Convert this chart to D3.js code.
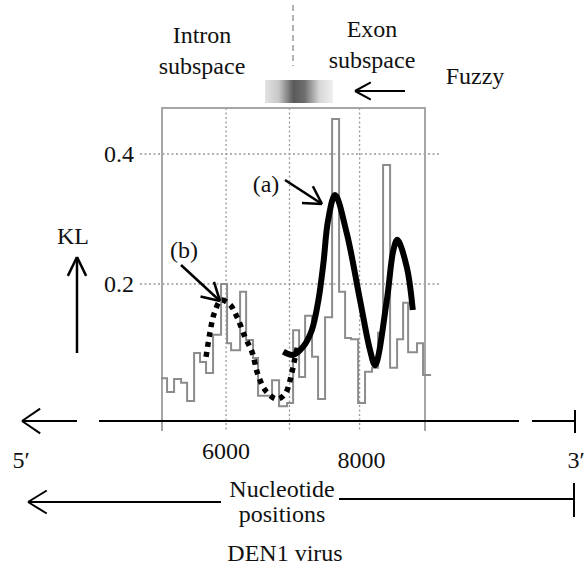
<!DOCTYPE html>
<html>
<head>
<meta charset="utf-8">
<script src="https://cdn.jsdelivr.net/npm/d3@7"></script>
<style>
  body { margin: 0; background: #fff; }
  text { font-family: "Liberation Serif", "Times New Roman", serif; font-size: 24px; fill: #111; }
</style>
</head>
<body>
<div id="chart"></div>
<script>
// window KL values (step line), bin start positions in nucleotides
var binEdges = [5026, 5116, 5221, 5326, 5416, 5521, 5610, 5700, 5805, 5925,
  6015, 6075, 6210, 6300, 6404, 6479, 6689, 6794, 6914, 7004,
  7094, 7184, 7288, 7378, 7483, 7588, 7693, 7783, 7873, 7978,
  8082, 8187, 8277, 8352, 8457, 8562, 8652, 8727, 8861, 8951, 9071];
var binKL = [0.055, 0.034, 0.054, 0.048, 0.020, 0.094, 0.080, 0.063, 0.122, 0.200,
  0.109, 0.098, 0.188, 0.114, 0.086, 0.028, 0.052, 0.012, 0.017, 0.129,
  0.057, 0.151, 0.088, 0.023, 0.149, 0.454, 0.188, 0.117, 0.115, 0.017,
  0.065, 0.071, 0.125, 0.383, 0.071, 0.115, 0.171, 0.095, 0.109, 0.060];

// fitted curve (a), solid
var curveAPos = [6858, 7008, 7158, 7284, 7383, 7458, 7528, 7633, 7808, 8007, 8157, 8232, 8408, 8506, 8566, 8707, 8797];
var curveAKL = [0.096, 0.091, 0.104, 0.129, 0.175, 0.232, 0.298, 0.337, 0.278, 0.175, 0.098, 0.075, 0.175, 0.252, 0.268, 0.226, 0.160];

// fitted curve (b), dotted
var curveBPos = [5700, 5760, 5820, 5925, 6060, 6165, 6285, 6390, 6479, 6599, 6764, 6884, 6959, 7019, 7079];
var curveBKL = [0.088, 0.126, 0.154, 0.175, 0.168, 0.149, 0.118, 0.095, 0.060, 0.035, 0.023, 0.031, 0.052, 0.080, 0.108];

var gridX = [6000, 6950, 8000];
var gridY = [0.2, 0.4];
var xTickLabels = ["6000", "8000"];
var yTickLabels = ["0.2", "0.4"];

var W = 587, H = 571;
var svg = d3.select("#chart").append("svg").attr("width", W).attr("height", H);

var x = d3.scaleLinear().domain([5040, 8980]).range([162, 425]);
var y = d3.scaleLinear().domain([0, 0.4]).range([414, 154]);

function arrow(x1, y1, x2, y2, len, ang, sw) {
  // shaft from (x1,y1), open head at (x2,y2)
  var a = Math.atan2(y1 - y2, x1 - x2);
  var g = svg.append("g").attr("stroke", "#000").attr("stroke-width", sw).attr("fill", "none");
  g.append("line").attr("x1", x1).attr("y1", y1).attr("x2", x2).attr("y2", y2);
  [-ang, ang].forEach(function (d) {
    g.append("line").attr("x1", x2).attr("y1", y2)
      .attr("x2", x2 + len * Math.cos(a + d)).attr("y2", y2 + len * Math.sin(a + d));
  });
}

// gridlines
svg.selectAll(".gx").data(gridX).enter().append("line")
  .attr("x1", function (d) { return x(d); }).attr("x2", function (d) { return x(d); })
  .attr("y1", 108).attr("y2", 431)
  .attr("stroke", "#999").attr("stroke-width", 1.3).attr("stroke-dasharray", "2,2.5");
svg.selectAll(".gy").data(gridY).enter().append("line")
  .attr("x1", 140).attr("x2", 441)
  .attr("y1", function (d) { return y(d); }).attr("y2", function (d) { return y(d); })
  .attr("stroke", "#999").attr("stroke-width", 1.3).attr("stroke-dasharray", "2,2.5");

// plot frame
var xd = x.domain();
svg.append("path")
  .attr("d", "M" + x(xd[0]) + ",431V108H" + x(xd[1]) + "V431")
  .attr("fill", "none").attr("stroke", "#a6a6a6").attr("stroke-width", 2);

// step line
var steps = binKL.map(function (v, i) { return [binEdges[i], v]; });
steps.push([binEdges[binEdges.length - 1], binKL[binKL.length - 1]]);
svg.append("path").datum(steps)
  .attr("d", d3.line().x(function (d) { return x(d[0]); }).y(function (d) { return y(d[1]); }).curve(d3.curveStepAfter))
  .attr("fill", "none").attr("stroke", "#8c8c8c").attr("stroke-width", 2);

// fitted curves
var smooth = d3.line().x(function (d) { return x(d[0]); }).y(function (d) { return y(d[1]); }).curve(d3.curveCatmullRom);
svg.append("path").datum(curveBPos.map(function (p, i) { return [p, curveBKL[i]]; }))
  .attr("d", smooth).attr("fill", "none").attr("stroke", "#000")
  .attr("stroke-width", 5.5).attr("stroke-dasharray", "5,5");
svg.append("path").datum(curveAPos.map(function (p, i) { return [p, curveAKL[i]]; }))
  .attr("d", smooth).attr("fill", "none").attr("stroke", "#000").attr("stroke-width", 6);

// y tick labels
svg.selectAll(".yl").data(gridY).enter().append("text")
  .attr("x", 134).attr("y", function (d) { return y(d) + 8; })
  .attr("text-anchor", "end").text(function (d, i) { return yTickLabels[i]; });

// horizontal position axis
svg.append("line").attr("x1", 99).attr("x2", 519).attr("y1", 421).attr("y2", 421)
  .attr("stroke", "#000").attr("stroke-width", 2);
svg.append("line").attr("x1", 532).attr("x2", 575).attr("y1", 421).attr("y2", 421)
  .attr("stroke", "#000").attr("stroke-width", 2);
svg.append("line").attr("x1", 575).attr("x2", 575).attr("y1", 410).attr("y2", 433)
  .attr("stroke", "#000").attr("stroke-width", 2);
arrow(77, 421, 22, 421, 22, 0.6, 2);

svg.append("text").attr("x", x(6000)).attr("y", 459).attr("text-anchor", "middle").text(xTickLabels[0]);
svg.append("text").attr("x", x(8000) + 2).attr("y", 468).attr("text-anchor", "middle").text(xTickLabels[1]);
svg.append("text").attr("x", 21).attr("y", 468).attr("text-anchor", "middle").text("5\u2032");
svg.append("text").attr("x", 576).attr("y", 468).attr("text-anchor", "middle").text("3\u2032");

// nucleotide positions arrow
arrow(221, 502, 28, 502, 22, 0.55, 2);
svg.append("line").attr("x1", 339).attr("x2", 574).attr("y1", 499).attr("y2", 499)
  .attr("stroke", "#000").attr("stroke-width", 2);
svg.append("line").attr("x1", 574).attr("x2", 574).attr("y1", 483).attr("y2", 517)
  .attr("stroke", "#000").attr("stroke-width", 2);
svg.append("text").attr("x", 282).attr("y", 497).attr("text-anchor", "middle").text("Nucleotide");
svg.append("text").attr("x", 282).attr("y", 522).attr("text-anchor", "middle").text("positions");
svg.append("text").attr("x", 285).attr("y", 561).attr("text-anchor", "middle").text("DEN1 virus");

// KL axis arrow
arrow(77, 353, 77, 257, 21, 0.45, 2.5);
svg.append("text").attr("x", 73).attr("y", 244).attr("text-anchor", "middle").text("KL");

// annotations
arrow(285, 180, 322, 204, 20, 0.52, 2.5);
svg.append("text").attr("x", 266).attr("y", 192).attr("text-anchor", "middle").text("(a)");
arrow(181, 265, 220, 301, 20, 0.52, 2.5);
svg.append("text").attr("x", 184).attr("y", 258).attr("text-anchor", "middle").text("(b)");

// subspace header
svg.append("line").attr("x1", 293).attr("x2", 293).attr("y1", 5).attr("y2", 66)
  .attr("stroke", "#999").attr("stroke-width", 1.5).attr("stroke-dasharray", "6,4");
svg.append("text").attr("x", 202).attr("y", 43).attr("text-anchor", "middle").text("Intron");
svg.append("text").attr("x", 202).attr("y", 74).attr("text-anchor", "middle").text("subspace");
svg.append("text").attr("x", 372).attr("y", 37).attr("text-anchor", "middle").text("Exon");
svg.append("text").attr("x", 372).attr("y", 68).attr("text-anchor", "middle").text("subspace");
svg.append("text").attr("x", 475).attr("y", 84).attr("text-anchor", "middle").text("Fuzzy");

var grad = svg.append("defs").append("linearGradient").attr("id", "fuzz");
[[0, "#e2e2e2"], [0.2, "#c8c8c8"], [0.42, "#5a5a5a"], [0.58, "#6e6e6e"], [0.8, "#d6d6d6"], [1, "#f0f0f0"]]
  .forEach(function (s) { grad.append("stop").attr("offset", s[0]).attr("stop-color", s[1]); });
svg.append("rect").attr("x", 265).attr("y", 80).attr("width", 68).attr("height", 23).attr("fill", "url(#fuzz)");
arrow(405, 91, 355, 91, 18, 0.5, 2);
</script>
</body>
</html>
